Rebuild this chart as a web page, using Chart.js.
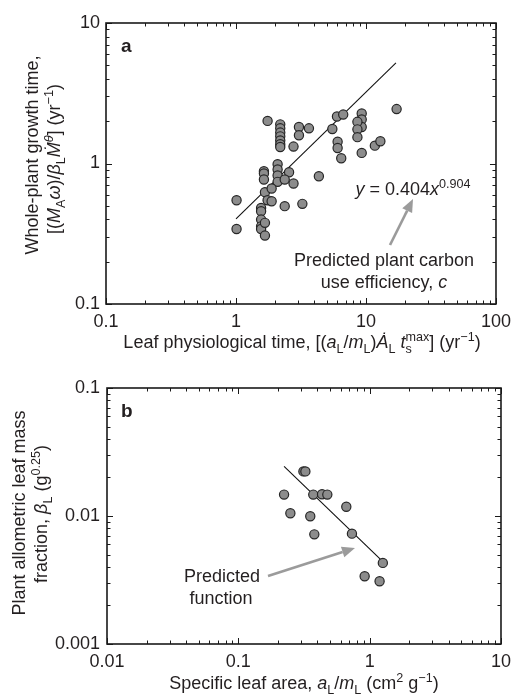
<!DOCTYPE html>
<html><head><meta charset="utf-8">
<script src="https://cdn.jsdelivr.net/npm/chart.js@4.4.1/dist/chart.umd.min.js"></script>
<style>
html,body{margin:0;padding:0;background:#fff;}
#wrap{position:relative;width:518px;height:697px;overflow:hidden;background:#fff;}
canvas{position:absolute;left:0;}
#ca{top:0;} #cb{top:360px;}
</style></head><body>
<div id="wrap"><canvas id="ca" width="518" height="360"></canvas><canvas id="cb" width="518" height="337"></canvas></div>
<script>
// ---------- Panel a data ----------
const aX = [1.01,1.01,1.75,
  2.19,2.19,2.19,2.19,2.19,2.19,2.19,
  3.05,3.05,3.64,2.77,5.51,5.98,6.68,6.05,6.05,6.45,
  9.27,9.27,9.27,9.27,8.59,8.59,8.59,11.7,12.9,17.2,
  1.64,1.64,1.64,2.09,2.09,2.09,2.09,2.56,2.37,2.77,4.34,
  1.67,1.88,1.75,1.88,2.37,3.24,
  1.56,1.56,1.56,1.56,1.56,1.67,1.67];
const aY = [0.548,0.342,2.01,
  1.90,1.78,1.66,1.56,1.46,1.37,1.31,
  1.82,1.59,1.78,1.32,1.76,2.16,2.23,1.43,1.29,1.09,
  2.27,2.06,1.82,1.19,1.98,1.75,1.54,1.34,1.44,2.44,
  0.881,0.849,0.769,0.989,0.906,0.821,0.740,0.867,0.769,0.72,0.812,
  0.625,0.664,0.548,0.539,0.497,0.516,
  0.483,0.457,0.399,0.357,0.342,0.378,0.307];
const aFitX = [1.0, 17.0];
const aFitY = [0.404, 5.2];
const aXTicks = ['0.1','1','10','100'];
const aYTicks = ['0.1','1','10'];

// ---------- Panel b data ----------
const bX = [0.223,0.249,0.313,0.324,0.353,0.372,0.379,0.434,0.476,0.664,0.733,1.26,0.916,1.19];
const bY = [0.0147,0.0105,0.0223,0.0223,0.00995,0.0147,0.00719,0.0148,0.0147,0.0118,0.00728,0.0043,0.00338,0.00309];
const bFitX = [0.223, 1.21];
const bFitY = [0.0244, 0.00459];
const bXTicks = ['0.01','0.1','1','10'];
const bYTicks = ['0.001','0.01','0.1'];

const FONT = '"Liberation Sans", Arial, Helvetica, sans-serif';
const TXT = '#231f20';

function buildTicks(labels){
  const dec = labels.map(Number); const out = [];
  dec.forEach((d,i)=>{
    out.push({value:d, major:true});
    if(i<dec.length-1) for(let k=2;k<=9;k++) out.push({value:+(d*k).toPrecision(4), major:false});
  });
  return out;
}
function labelFor(labels){
  return function(v){
    const i = labels.findIndex(l=>Math.abs(Math.log10(Number(l))-Math.log10(v))<1e-6);
    return i>=0 ? labels[i] : '';
  };
}

// rich text
function segFont(s, size){
  const sz = (s.sub||s.sup) ? size*0.7 : size;
  return (s.it?'italic ':'') + (s.b?'bold ':'') + sz + 'px ' + FONT;
}
function segWidth(ctx, s, size){
  if(s.stack){
    ctx.font = segFont({sub:1}, size);
    return Math.max(ctx.measureText(s.stack.sub).width, ctx.measureText(s.stack.sup).width);
  }
  ctx.font = segFont(s, size);
  return ctx.measureText(s.t).width;
}
function drawRich(ctx, segs, x, y, size, align, rotate){
  ctx.save();
  ctx.translate(x, y);
  if(rotate) ctx.rotate(-Math.PI/2);
  ctx.fillStyle = TXT;
  ctx.textBaseline = 'alphabetic';
  ctx.textAlign = 'left';
  const widths = segs.map(s=>segWidth(ctx,s,size));
  const total = widths.reduce((a,b)=>a+b,0);
  let cx = align==='center' ? -total/2 : 0;
  segs.forEach((s,i)=>{
    if(s.stack){
      ctx.font = segFont({sub:1}, size);
      ctx.fillText(s.stack.sub, cx, size*0.25);
      ctx.fillText(s.stack.sup, cx, -size*0.38);
    } else {
      ctx.font = segFont(s, size);
      const dy = s.sub ? size*0.25 : (s.sup ? -size*0.38 : 0);
      ctx.fillText(s.t, cx, dy);
    }
    cx += widths[i];
  });
  ctx.restore();
}
function drawArrow(ctx, x1, y1, x2, y2){
  const ang = Math.atan2(y2-y1, x2-x1);
  const hl = 13, hw = 5.5;
  const bx = x2 - hl*Math.cos(ang), by = y2 - hl*Math.sin(ang);
  ctx.save();
  ctx.strokeStyle = '#9b9b9b'; ctx.fillStyle = '#9b9b9b';
  ctx.lineWidth = 2.6;
  ctx.beginPath(); ctx.moveTo(x1,y1); ctx.lineTo(bx,by); ctx.stroke();
  ctx.beginPath();
  ctx.moveTo(x2,y2);
  ctx.lineTo(bx - hw*Math.sin(ang), by + hw*Math.cos(ang));
  ctx.lineTo(bx + hw*Math.sin(ang), by - hw*Math.cos(ang));
  ctx.closePath(); ctx.fill();
  ctx.restore();
}

const frameTicks = {
  id:'frameTicks',
  afterDraw(chart){
    const ctx = chart.ctx, ca = chart.chartArea, xs = chart.scales.x, ys = chart.scales.y;
    ctx.save();
    ctx.strokeStyle = '#1a1a1a'; ctx.lineWidth = 1;
    xs.ticks.forEach(t=>{
      const p = Math.round(xs.getPixelForValue(t.value))+0.5, L = t.major?6:3.5;
      ctx.beginPath();
      ctx.moveTo(p, ca.bottom); ctx.lineTo(p, ca.bottom-L);
      ctx.moveTo(p, ca.top); ctx.lineTo(p, ca.top+L);
      ctx.stroke();
    });
    ys.ticks.forEach(t=>{
      const p = Math.round(ys.getPixelForValue(t.value))+0.5, L = t.major?6:3.5;
      ctx.beginPath();
      ctx.moveTo(ca.left, p); ctx.lineTo(ca.left+L, p);
      ctx.moveTo(ca.right, p); ctx.lineTo(ca.right-L, p);
      ctx.stroke();
    });
    ctx.lineWidth = 1.6;
    ctx.strokeRect(ca.left, ca.top, ca.right-ca.left, ca.bottom-ca.top);
    ctx.restore();
  }
};

function notesPlugin(texts, arrows){
  return {
    id:'notes',
    afterDraw(chart){
      const ctx = chart.ctx;
      arrows.forEach(a=>drawArrow(ctx, a[0],a[1],a[2],a[3]));
      texts.forEach(t=>drawRich(ctx, t.segs, t.x, t.y, t.size, t.align, t.rot));
    }
  };
}

function makeChart(id, xs, ys, fx, fy, xT, yT, cfg, texts, arrows){
  return new Chart(document.getElementById(id), {
    type:'scatter',
    data:{datasets:[
      {data: xs.map((v,i)=>({x:v,y:ys[i]})), pointRadius:4.6, pointBackgroundColor:'#8c8c8c',
       pointBorderColor:'#262626', pointBorderWidth:1.2, showLine:false},
      {data: fx.map((v,i)=>({x:v,y:fy[i]})), showLine:true, pointRadius:0, borderColor:'#111', borderWidth:1.1, fill:false}
    ]},
    options:{
      responsive:false, animation:false,
      layout:{padding:{left:0, right:cfg.pr, top:cfg.pt, bottom:0}},
      plugins:{legend:{display:false}, tooltip:{enabled:false}},
      scales:{
        x:{type:'logarithmic', min:Number(xT[0]), max:Number(xT[xT.length-1]), position:'bottom',
           grid:{display:false, drawTicks:false}, border:{display:false},
           afterBuildTicks:(s)=>{ s.ticks = buildTicks(xT); },
           afterFit:(s)=>{ s.height = cfg.xh; },
           ticks:{autoSkip:false, maxRotation:0, minRotation:0, padding:cfg.xpad, color:TXT,
                  font:{family:FONT, size:18}, callback:labelFor(xT)}},
        y:{type:'logarithmic', min:Number(yT[0]), max:Number(yT[yT.length-1]), position:'left',
           grid:{display:false, drawTicks:false}, border:{display:false},
           afterBuildTicks:(s)=>{ s.ticks = buildTicks(yT); },
           afterFit:(s)=>{ s.width = cfg.yw; },
           ticks:{autoSkip:false, padding:cfg.ypad, color:TXT,
                  font:{family:FONT, size:18}, callback:labelFor(yT)}}
      }
    },
    plugins:[frameTicks, notesPlugin(texts, arrows)]
  });
}

const S = 18;
makeChart('ca', aX, aY, aFitX, aFitY, aXTicks, aYTicks,
  {pr:18, pt:23, xh:56, yw:106, xpad:7, ypad:6},
  [
    {segs:[{t:'a', b:1}], x:121, y:52, size:19, align:'left'},
    {segs:[{t:'y',it:1},{t:' = 0.404'},{t:'x',it:1},{t:'0.904',sup:1}], x:413, y:195, size:S, align:'center'},
    {segs:[{t:'Predicted plant carbon'}], x:384, y:266, size:S, align:'center'},
    {segs:[{t:'use efficiency, '},{t:'c',it:1}], x:384, y:288, size:S, align:'center'},
    {segs:[{t:'Leaf physiological time, [('},{t:'a',it:1},{t:'L',sub:1},{t:'/'},{t:'m',it:1},{t:'L',sub:1},{t:')'},
           {t:'\u0226',it:1},{t:'L',sub:1},{t:' '},{t:'t',it:1},{stack:{sub:'s',sup:'max'}},{t:'] (yr'},{t:'\u22121',sup:1},{t:')'}],
     x:302, y:348, size:S, align:'center'},
    {segs:[{t:'Whole-plant growth time,'}], x:38, y:155, size:S, align:'center', rot:1},
    {segs:[{t:'[('},{t:'M',it:1},{t:'A',sub:1},{t:'\u03c9',it:1},{t:')/'},{t:'\u03b2',it:1},{t:'L',sub:1},
           {t:'\u1E40',it:1},{t:'\u03b8',it:1,sup:1},{t:'] (yr'},{t:'\u22121',sup:1},{t:')'}],
     x:60, y:159, size:S, align:'center', rot:1}
  ],
  [[390,245,413,199]]);

makeChart('cb', bX, bY, bFitX, bFitY, bXTicks, bYTicks,
  {pr:17, pt:28, xh:53, yw:107, xpad:7, ypad:7},
  [
    {segs:[{t:'b', b:1}], x:121, y:57, size:19, align:'left'},
    {segs:[{t:'Predicted'}], x:222, y:222, size:S, align:'center'},
    {segs:[{t:'function'}], x:221, y:244, size:S, align:'center'},
    {segs:[{t:'Specific leaf area, '},{t:'a',it:1},{t:'L',sub:1},{t:'/'},{t:'m',it:1},{t:'L',sub:1},{t:' (cm'},{t:'2',sup:1},{t:' g'},{t:'\u22121',sup:1},{t:')'}],
     x:304, y:329, size:S, align:'center'},
    {segs:[{t:'Plant allometric leaf mass'}], x:25, y:153, size:S, align:'center', rot:1},
    {segs:[{t:'fraction, '},{t:'\u03b2',it:1},{t:'L',sub:1},{t:' (g'},{t:'0.25',sup:1},{t:')'}], x:47, y:154, size:S, align:'center', rot:1}
  ],
  [[268,216,355,188]]);
</script>
</body></html>
